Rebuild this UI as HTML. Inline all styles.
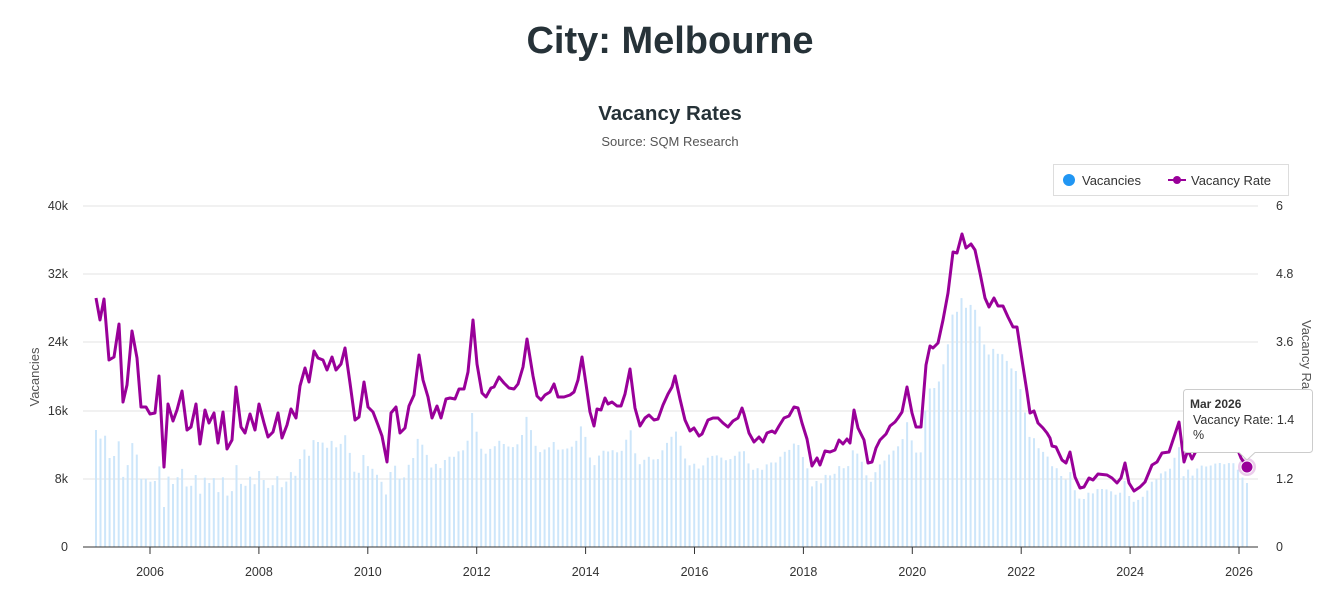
<!DOCTYPE html>
<html><head><meta charset="utf-8"><style>
body{margin:0;background:#fff;font-family:"Liberation Sans",sans-serif;}
svg{display:block}
</style></head><body>
<svg id="s" width="1342" height="591" xmlns="http://www.w3.org/2000/svg" font-family="Liberation Sans, sans-serif">
<text x="670" y="53" text-anchor="middle" font-size="38" font-weight="bold" fill="#263238">City: Melbourne</text>
<text x="670" y="120" text-anchor="middle" font-size="20.5" font-weight="bold" fill="#263238">Vacancy Rates</text>
<text x="670" y="146" text-anchor="middle" font-size="13" fill="#555">Source: SQM Research</text>
<rect x="1053.5" y="164.5" width="235" height="31" fill="#fff" stroke="#ddd"/>
<circle cx="1069" cy="180" r="6" fill="#2196f3"/>
<text x="1082" y="185" font-size="13" fill="#333">Vacancies</text>
<line x1="1168" y1="180" x2="1186" y2="180" stroke="#990099" stroke-width="2"/>
<circle cx="1177" cy="180" r="4" fill="#990099"/>
<text x="1191" y="185" font-size="13" fill="#333">Vacancy Rate</text>
<g id="grid"></g>
<g id="bars"></g>
<g id="axis"></g>
<g id="line"></g>
<g font-size="12.5" fill="#333" id="labels"></g>
<text transform="translate(39,377) rotate(-90)" text-anchor="middle" font-size="13" fill="#555">Vacancies</text>
<text transform="translate(1302,320) rotate(90)" font-size="13" fill="#555">Vacancy Rate</text>
<circle cx="1247" cy="467" r="9" fill="#990099" opacity="0.2"/>
<circle cx="1247" cy="467" r="6" fill="#990099" stroke="#fff" stroke-width="1"/>
<rect x="1183.5" y="389.5" width="129" height="63" rx="3" fill="#fff" stroke="#ccc"/>
<path d="M1239 452 L1247 460 L1255 452 Z" fill="#fff"/>
<path d="M1239 452.5 L1247 460 L1255 452.5" fill="none" stroke="#ccc"/>
<text x="1190" y="408" font-size="12" font-weight="bold" fill="#333">Mar 2026</text>
<text x="1193" y="424" font-size="12.5" fill="#333">Vacancy Rate: 1.4</text>
<text x="1193" y="439" font-size="12.5" fill="#333">%</text>
</svg>
<script>
(function(){
var NS="http://www.w3.org/2000/svg";
function el(p,t,a,txt){var e=document.createElementNS(NS,t);for(var k in a)e.setAttribute(k,a[k]);if(txt!=null)e.textContent=txt;document.getElementById(p).appendChild(e);return e;}
var gy=[206,274,342,411,479];
gy.forEach(function(y){el("grid","line",{x1:83,x2:1258,y1:y,y2:y,stroke:"#e3e3e3"});});
var ll=["40k","32k","24k","16k","8k","0"],rl=["6","4.8","3.6","2.4","1.2","0"];
[206,274,342,411,479,547].forEach(function(y,i){el("labels","text",{x:68,y:y+4,"text-anchor":"end"},ll[i]);el("labels","text",{x:1276,y:y+4},rl[i]);});
for(var yr=2006;yr<=2026;yr+=2){var tx=150+(yr-2006)*54.45;el("axis","line",{x1:tx,x2:tx,y1:547,y2:554,stroke:"#333"});el("labels","text",{x:tx,y:576,"text-anchor":"middle"},String(yr));}
var P=[96,298,100,320,104,299,109,360,114,357,119,324,123,402,127,385,132,331,137,358,141,407,146,407,150,414,155,413,159,376,164,467,168,404,173,421,177,410,182,391,187,430,191,427,196,404,200,444,205,410,209,423,214,413,218,443,223,412,227,449,232,440,236,387,241,427,245,433,250,414,255,430,259,404,264,423,268,437,273,432,278,413,282,438,287,425,291,409,296,418,300,386,305,368,309,382,314,351,318,358,323,360,327,370,332,357,336,370,341,364,345,348,350,383,355,420,359,417,364,382,368,407,373,412,378,425,382,436,387,462,391,413,396,407,400,433,405,428,409,406,414,395,419,355,423,380,428,397,432,418,437,406,441,418,446,399,450,398,455,399,459,389,464,389,468,372,473,320,477,364,482,393,486,397,491,388,494,387,499,377,504,383,509,388,514,389,518,384,523,367,527,339,533,376,537,396,541,400,545,395,550,392,554,384,558,397,564,397,570,395,574,392,578,380,582,357,586,384,590,412,594,426,597,409,601,410,605,398,608,404,612,402,617,406,621,406,625,394,630,369,635,408,640,426,645,418,649,415,654,420,658,419,663,405,668,394,672,387,675,376,680,399,685,420,690,431,694,428,699,436,702,434,708,420,713,418,718,418,723,423,728,427,733,421,738,418,742,408,744,414,749,433,754,442,759,437,763,442,767,433,772,431,775,433,779,426,784,418,789,416,794,407,798,408,802,423,807,439,812,466,817,458,820,465,825,451,830,452,835,450,839,440,843,444,847,439,850,443,854,410,858,428,864,440,868,463,872,462,876,448,880,440,886,434,890,426,895,422,898,418,902,412,907,387,912,413,916,427,921,427,926,365,930,346,933,348,938,343,943,320,948,293,953,252,957,253,962,234,966,248,971,244,975,250,980,273,985,298,989,307,994,298,998,306,1003,306,1008,317,1013,327,1017,327,1022,360,1027,392,1030,413,1034,411,1038,423,1043,428,1047,433,1050,438,1052,446,1056,447,1062,460,1066,463,1070,452,1075,477,1080,488,1084,487,1089,478,1093,480,1098,474,1107,475,1112,478,1117,483,1121,478,1125,463,1129,483,1134,491,1140,487,1145,482,1152,465,1157,462,1162,453,1169,452,1173,440,1179,422,1184,462,1188,450,1192,459,1197,449,1202,445,1208,447,1214,443,1220,442,1226,444,1232,440,1237,448,1241,458,1247,467];
var pts=[];for(var i=0;i<P.length;i+=2)pts.push(P[i]+","+P[i+1]);
function ly(x){for(var j=0;j<P.length-2;j+=2){if(x>=P[j]&&x<=P[j+2]){var t=(x-P[j])/((P[j+2]-P[j])||1);return P[j+1]+t*(P[j+3]-P[j+1]);}}return P[P.length-1];}
var n=255;for(var m=0;m<n;m++){var bx=96+m*(1247-96)/(n-1);var yy=ly(bx);var kk=bx<950?0.47+0.33*(bx-96)/854:0.8;var barTop=547-(547-yy)*kk;el("bars","rect",{x:(bx-1).toFixed(1),y:barTop.toFixed(1),width:2,height:(547-barTop).toFixed(1),fill:"#cde6fa"});}
el("axis","line",{x1:83,x2:1258,y1:547,y2:547,stroke:"#333"});
el("line","polyline",{points:pts.join(" "),fill:"none",stroke:"#990099","stroke-width":3,"stroke-linejoin":"round"});
})();
</script>
</body></html>
